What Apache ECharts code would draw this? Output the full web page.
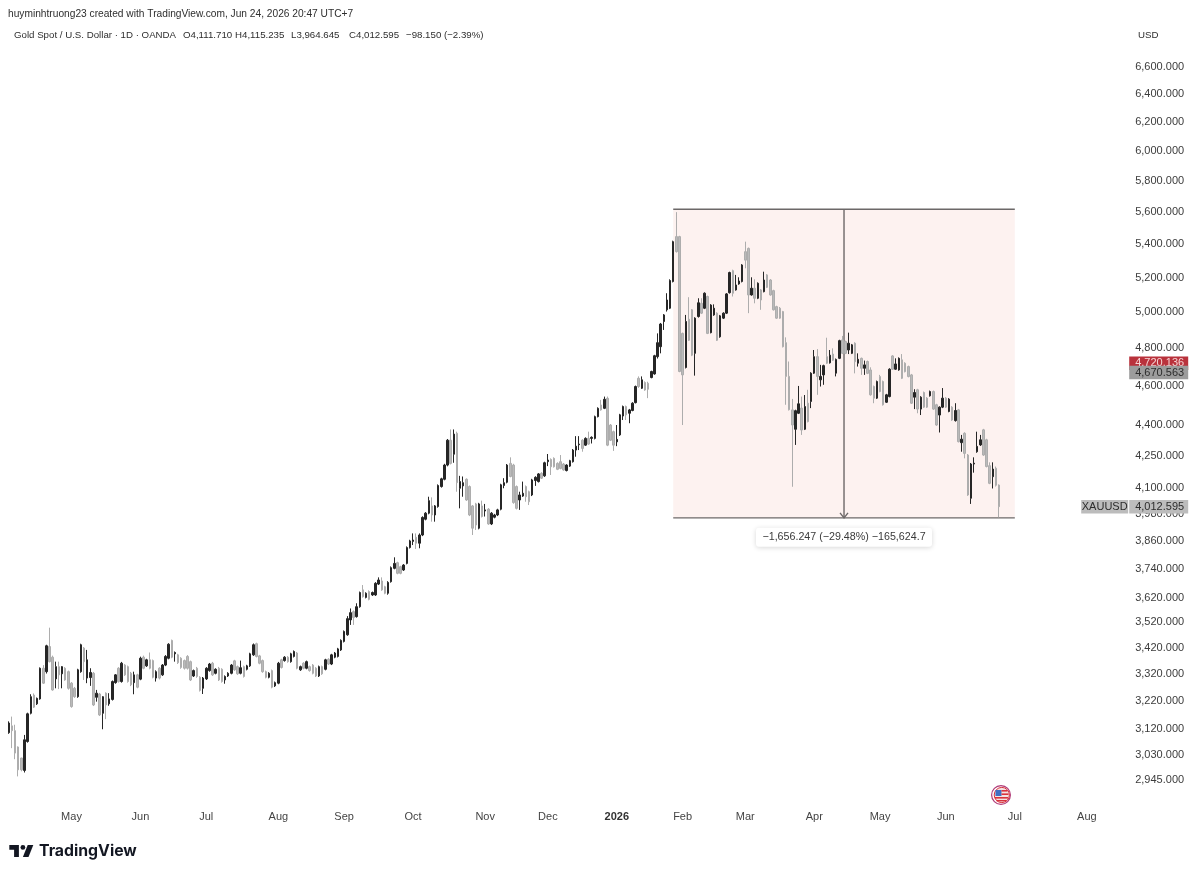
<!DOCTYPE html>
<html>
<head>
<meta charset="utf-8">
<title>XAUUSD daily</title>
<script src="https://cdn.jsdelivr.net/npm/echarts@6/dist/echarts.min.js"></script>
<style>html,body{margin:0;padding:0;background:#fff}#c{width:1200px;height:875px}</style>
</head>
<body>
<div id="c"></div>
<script>
// Daily OHLC for XAUUSD, first session 2025-04-03
const opens = [
3107,3131,3114,3057,3019,2977,3076,3176,3242,3210,
3228,3342,3329,3425,3384,3302,3348,3321,3342,3329,
3286,3267,3236,3329,3419,3305,3307,3323,3234,3246,
3176,3249,3210,3226,3288,3342,3292,3354,3348,3323,
3288,3317,3301,3384,3351,3374,3371,3305,3342,3317,
3354,3380,3449,3397,3393,3380,3371,3387,3367,3313,
3342,3308,3267,3302,3333,3361,3323,3342,3338,3298,
3313,3323,3370,3348,3323,3348,3338,3351,3393,3436,
3389,3371,3329,3308,3333,3276,3286,3374,3371,3384,
3367,3387,3400,3336,3361,3342,3348,3354,3342,3313,
3348,3338,3376,3358,3384,3387,3412,3445,3471,3530,
3563,3543,3583,3652,3621,3645,3631,3631,3676,3689,
3665,3638,3686,3742,3766,3749,3735,3763,3831,3858,
3876,3850,3886,3956,3983,4016,3975,4013,4105,4139,
4206,4326,4258,4360,4097,4108,4139,4105,4016,4025,
3916,4016,3993,4001,3935,3965,3975,4001,4110,4125,
4214,4206,4105,4043,4061,4105,4081,4066,4133,4128,
4167,4155,4222,4233,4238,4214,4222,4211,4180,4201,
4222,4278,4304,4326,4302,4335,4335,4335,4443,4502,
4485,4536,4401,4368,4318,4352,4446,4494,4460,4474,
4514,4640,4588,4618,4614,4644,4663,4755,4809,4948,
5014,5023,5177,5447,5447,4882,4697,4961,5014,4773,
4976,5051,5023,5090,4886,4985,4995,4863,4967,4995,
5112,5241,5128,5163,5177,5355,5375,5099,5138,5080,
5128,5118,5216,5186,5124,5032,5023,5004,4831,4650,
4477,4380,4460,4486,4380,4511,4520,4667,4755,4632,
4658,4755,4722,4769,4667,4746,4846,4837,4791,4773,
4828,4720,4746,4693,4729,4684,4597,4537,4649,4623,
4516,4545,4759,4688,4684,4738,4720,4702,4658,4542,
4580,4481,4566,4537,4549,4571,4503,4451,4491,4537,
4469,4491,4423,4477,4314,4360,4254,4051,4211,4270,
4303,4377,4328,4203,4151,4191,4111.71];
const highs = [
3147,3164,3135,3059,3020,3099,3178,3245,3248,3233,
3345,3354,3432,3499,3390,3367,3367,3350,3346,3333,
3290,3272,3340,3436,3423,3412,3342,3328,3261,3250,
3238,3252,3249,3296,3320,3346,3366,3358,3352,3328,
3329,3321,3386,3390,3378,3402,3375,3334,3346,3358,
3392,3438,3452,3406,3397,3384,3375,3392,3371,3337,
3347,3312,3309,3346,3362,3366,3342,3347,3342,3315,
3327,3358,3374,3352,3371,3352,3355,3401,3437,3440,
3393,3375,3333,3327,3337,3292,3366,3378,3388,3388,
3401,3410,3404,3352,3365,3371,3352,3358,3346,3352,
3352,3378,3380,3397,3404,3420,3453,3488,3545,3576,
3568,3597,3645,3672,3642,3650,3645,3684,3704,3704,
3669,3688,3750,3789,3770,3753,3760,3836,3865,3893,
3893,3893,3969,3988,4058,4055,4020,4115,4146,4212,
4332,4379,4379,4368,4155,4152,4143,4110,4020,4030,
4030,4040,4025,4006,3988,3980,4003,4118,4144,4211,
4243,4212,4110,4081,4128,4110,4086,4141,4153,4168,
4172,4222,4259,4238,4243,4219,4254,4216,4210,4231,
4283,4346,4346,4331,4340,4368,4345,4448,4490,4528,
4545,4545,4406,4373,4401,4457,4499,4499,4482,4516,
4602,4650,4650,4624,4622,4680,4765,4882,4940,4990,
5109,5190,5422,5600,5452,4886,4985,5086,5018,4972,
5080,5080,5114,5095,5046,5045,5000,4985,5000,5110,
5235,5247,5216,5202,5280,5416,5380,5202,5190,5172,
5133,5235,5221,5191,5129,5037,5030,5008,4860,4729,
4533,4478,4600,4545,4553,4580,4672,4791,4796,4711,
4712,4858,4791,4800,4745,4847,4868,4842,4886,4824,
4833,4773,4750,4734,4734,4698,4602,4628,4658,4628,
4559,4693,4763,4746,4751,4769,4725,4707,4663,4583,
4585,4547,4571,4542,4576,4576,4508,4495,4589,4542,
4537,4496,4511,4482,4352,4365,4259,4216,4243,4368,
4352,4382,4333,4219,4219,4199,4115.235];
const lows = [
3103,3053,3015,2957,2974,2970,3072,3172,3195,3206,
3225,3283,3322,3364,3258,3267,3264,3267,3295,3262,
3196,3232,3232,3325,3298,3286,3276,3202,3218,3166,
3119,3155,3203,3222,3284,3288,3288,3313,3288,3275,
3245,3267,3297,3338,3347,3338,3304,3292,3300,3313,
3350,3376,3380,3367,3358,3340,3337,3337,3294,3309,
3306,3255,3246,3298,3329,3313,3319,3294,3288,3284,
3309,3319,3332,3317,3319,3307,3334,3347,3389,3383,
3357,3325,3304,3304,3267,3272,3282,3341,3367,3363,
3363,3383,3338,3332,3338,3338,3329,3319,3309,3309,
3317,3334,3354,3354,3380,3383,3408,3441,3467,3510,
3510,3539,3579,3620,3617,3609,3627,3627,3672,3648,
3634,3632,3682,3738,3717,3717,3731,3759,3827,3842,
3825,3828,3881,3951,3978,3945,3945,4008,4100,4134,
4200,4209,4217,4081,4005,4058,4039,3970,3886,3908,
3911,3964,3968,3931,3930,3960,3970,3996,4097,4120,
4148,4026,4000,3998,4057,4035,4020,4061,4108,4124,
4140,4150,4201,4159,4194,4182,4186,4179,4176,4197,
4218,4246,4278,4270,4298,4303,4310,4330,4439,4473,
4481,4297,4322,4274,4297,4347,4426,4426,4410,4470,
4510,4590,4584,4575,4537,4640,4659,4745,4773,4901,
5004,5018,5172,5350,4672,4401,4692,4840,4758,4654,
4970,4990,5018,4878,4882,4980,4840,4858,4962,4990,
5107,5090,5124,5158,5172,5255,4995,5095,5051,5075,
5014,5114,5139,5095,5010,4963,4963,4805,4503,4474,
4104,4303,4456,4352,4376,4414,4486,4663,4554,4597,
4606,4716,4718,4732,4650,4742,4769,4769,4769,4769,
4666,4702,4658,4658,4662,4550,4511,4533,4567,4499,
4512,4541,4684,4684,4680,4636,4671,4645,4507,4481,
4460,4451,4487,4487,4545,4477,4397,4364,4486,4487,
4465,4422,4418,4315,4270,4238,4062,4025,4170,4265,
4298,4250,4195,4116,4096,4105,3964.645];
const closes = [
3141,3114,3036,2979,2979,3082,3174,3236,3198,3230,
3342,3286,3428,3367,3261,3348,3317,3348,3298,3267,
3200,3236,3336,3432,3367,3374,3326,3206,3249,3170,
3236,3206,3228,3292,3317,3292,3361,3317,3292,3280,
3317,3271,3380,3342,3374,3342,3308,3329,3305,3354,
3387,3434,3384,3402,3363,3345,3342,3342,3298,3333,
3311,3259,3305,3342,3358,3317,3338,3298,3292,3311,
3323,3354,3336,3321,3344,3311,3351,3397,3432,3387,
3361,3329,3308,3323,3271,3288,3361,3345,3384,3367,
3397,3406,3342,3348,3342,3367,3333,3323,3313,3348,
3321,3374,3358,3393,3400,3416,3449,3484,3535,3559,
3540,3583,3641,3624,3638,3613,3641,3679,3693,3652,
3638,3683,3745,3763,3721,3721,3756,3831,3860,3864,
3850,3886,3964,3983,4040,3975,4016,4110,4141,4206,
4326,4214,4356,4123,4128,4123,4043,3975,3916,3930,
4025,3968,3998,3935,3983,3975,3998,4113,4123,4206,
4152,4031,4005,4066,4074,4058,4035,4136,4148,4164,
4144,4217,4230,4198,4198,4186,4190,4183,4206,4227,
4278,4297,4307,4286,4335,4307,4340,4443,4485,4477,
4531,4302,4326,4302,4330,4452,4494,4452,4477,4511,
4597,4597,4632,4579,4583,4676,4760,4831,4934,4985,
5070,5183,5416,5355,4676,4658,4948,4844,4763,4967,
5054,4995,5109,4882,5041,5023,4844,4980,4995,5105,
5230,5109,5157,5180,5275,5304,5099,5138,5080,5167,
5070,5186,5143,5099,5014,4967,4967,4809,4650,4478,
4401,4473,4508,4376,4494,4418,4667,4755,4650,4650,
4707,4720,4763,4736,4740,4842,4773,4773,4828,4819,
4728,4741,4693,4711,4666,4554,4537,4623,4571,4503,
4554,4688,4688,4716,4746,4640,4675,4649,4511,4566,
4481,4542,4491,4491,4571,4481,4401,4491,4537,4491,
4532,4426,4474,4319,4331,4262,4066,4211,4215,4296,
4328,4254,4199,4120,4187,4111,4012.595];

// Price scale labels
const priceTicks = [6600,6400,6200,6000,5800,5600,5400,5200,5000,4800,4600,4400,4250,4100,3980,3860,3740,3620,3520,3420,3320,3220,3120,3030,2945];

// Calendar of the time scale
const calendarStart = '2025-04-01';
const calendarEnd = '2026-08-20';
const closedSessions = ['2025-12-25','2026-01-01','2026-04-03'];
const firstBarOffset = 2;
const monthNames = ['Jan','Feb','Mar','Apr','May','Jun','Jul','Aug','Sep','Oct','Nov','Dec'];

// Drawing tool: price range measured from the high to the low
const measureFrom = 5618;
const measureTo = 3962;
const measureLabel = '\u22121,656.247 (\u221229.48%) \u2212165,624.7';
const measureStartBar = 212;  // counted from the first session
const measureEndBar = 321;

// Price scale badges
const badgeValues = [4720.136, 4670.563, 4012.595];

const headerLine1 = 'huyminhtruong23 created with TradingView.com, Jun 24, 2026 20:47 UTC+7';
const headerLine2 = 'Gold Spot / U.S. Dollar \u00b7 1D \u00b7 OANDA';
const ohlcText = ['O4,111.710','H4,115.235','L3,964.645','C4,012.595','\u221298.150 (\u22122.39%)'];

const FONT = '"Liberation Sans", Arial, sans-serif';
const DARK = '#262626', LIGHT = '#bababa';

function buildCalendar() {
  const out = [];
  const d = new Date(calendarStart + 'T00:00:00Z');
  const end = new Date(calendarEnd + 'T00:00:00Z');
  while (d <= end) {
    const wd = d.getUTCDay();
    const s = d.toISOString().slice(0, 10);
    if (wd !== 0 && wd !== 6 && !closedSessions.includes(s)) out.push(s);
    d.setUTCDate(d.getUTCDate() + 1);
  }
  return out;
}
const categories = buildCalendar();
const monthLabelAt = {};
categories.forEach((s, i) => {
  if (i === 0) return;
  if (s.slice(0, 7) !== categories[i - 1].slice(0, 7) && s >= '2025-05') {
    const m = +s.slice(5, 7) - 1;
    monthLabelAt[i] = m === 0 ? '{y|' + s.slice(0, 4) + '}' : monthNames[m];
  }
});

const candleData = opens.map((o, i) => [i + firstBarOffset, o, closes[i], lows[i], highs[i]]);

function fmtTick(v) {
  return Number(v).toLocaleString('en-US', {minimumFractionDigits: 3, maximumFractionDigits: 3});
}

function renderMeasure(params, api) {
  const a = api.coord([api.value(0), api.value(2)]);
  const b = api.coord([api.value(1), api.value(3)]);
  const x1 = a[0], x2 = b[0], top = a[1], bot = b[1], mid = (x1 + x2) / 2;
  const line = {stroke: '#6c6868', lineWidth: 1.4, fill: null};
  return {
    type: 'group',
    children: [
      {type: 'rect', shape: {x: x1, y: top, width: x2 - x1, height: bot - top}, style: {fill: '#fdf2f0'}},
      {type: 'line', shape: {x1: x1, y1: top, x2: x2, y2: top}, style: line},
      {type: 'line', shape: {x1: x1, y1: bot, x2: x2, y2: bot}, style: line},
      {type: 'line', shape: {x1: mid, y1: top, x2: mid, y2: bot}, style: line},
      {type: 'polyline', shape: {points: [[mid - 4, bot - 5], [mid, bot], [mid + 4, bot - 5]]}, style: line},
      {type: 'rect', shape: {x: mid - 88, y: bot + 10, width: 176, height: 19, r: 3},
        style: {fill: '#fff', shadowColor: 'rgba(0,0,0,0.16)', shadowBlur: 5, shadowOffsetY: 1}},
      {type: 'text', x: mid, y: bot + 19.5,
        style: {text: measureLabel, fill: '#3a3a3a', font: '10.7px ' + FONT, align: 'center', verticalAlign: 'middle'}}
    ]
  };
}

const badgeStyles = [
  {bg: '#b9323c', fg: '#f6d5d5'},
  {bg: '#9c9c9c', fg: '#2c2c2c'},
  {bg: '#bcbcbc', fg: '#2c2c2c', name: 'XAUUSD'}
];
function renderBadge(params, api) {
  const i = params.dataIndex;
  const st = badgeStyles[i];
  const y = api.coord([0, api.value(1)])[1];
  const cs = params.coordSys;
  const x = cs.x + cs.width;
  const h = 13.5;
  const children = [
    {type: 'rect', shape: {x: x, y: y - h / 2, width: 59, height: h}, style: {fill: st.bg}},
    {type: 'text', x: x + 6, y: y, style: {text: fmtTick(api.value(1)), fill: st.fg, font: '11px ' + FONT, verticalAlign: 'middle'}}
  ];
  if (st.name) {
    children.push({type: 'rect', shape: {x: x - 48, y: y - h / 2, width: 47, height: h}, style: {fill: st.bg}});
    children.push({type: 'text', x: x - 24.5, y: y, style: {text: st.name, fill: st.fg, font: '11px ' + FONT, align: 'center', verticalAlign: 'middle'}});
  }
  return {type: 'group', children: children};
}

const headerText = (x, y, text, size) => ({
  type: 'text', x: x, y: y,
  style: {text: text, fill: '#2e2e2e', font: (size || 9.7) + 'px ' + FONT, verticalAlign: 'middle'}
});

const chart = echarts.init(document.getElementById('c'), null, {renderer: 'canvas'});
chart.setOption({
  animation: false,
  backgroundColor: '#fff',
  textStyle: {fontFamily: FONT},
  grid: {left: 1, top: 50, width: 1128.2, height: 750},
  xAxis: {
    type: 'category',
    data: categories,
    boundaryGap: true,
    axisLine: {show: false},
    axisTick: {show: false},
    splitLine: {show: false},
    axisLabel: {
      show: true,
      margin: 11,
      fontSize: 11,
      color: '#444',
      hideOverlap: false,
      interval: (i) => monthLabelAt[i] !== undefined,
      formatter: (v, i) => monthLabelAt[i] || '',
      rich: {y: {fontWeight: 'bold', fontSize: 11, color: '#333'}}
    }
  },
  yAxis: {
    type: 'log',
    logBase: 10,
    position: 'right',
    min: 2879,
    max: 6728,
    axisLine: {show: false},
    axisTick: {show: false},
    splitLine: {show: false},
    minorTick: {show: false},
    axisLabel: {
      margin: 6,
      fontSize: 11,
      color: '#3c3c3c',
      showMinLabel: true,
      showMaxLabel: true,
      hideOverlap: false,
      customValues: priceTicks,
      formatter: fmtTick
    }
  },
  series: [
    {
      type: 'custom',
      z: 1,
      clip: false,
      renderItem: renderMeasure,
      data: [[measureStartBar + firstBarOffset, measureEndBar + firstBarOffset, measureFrom, measureTo]],
      encode: {x: [0, 1], y: [2, 3]},
      silent: true
    },
    {
      type: 'candlestick',
      z: 2,
      barWidth: 2,
      data: candleData,
      encode: {x: 0, y: [1, 2, 3, 4]},
      itemStyle: {color: DARK, color0: LIGHT, borderColor: DARK, borderColor0: '#adadad', borderWidth: 1},
      silent: true
    },
    {
      type: 'custom',
      z: 5,
      clip: false,
      renderItem: renderBadge,
      data: badgeValues.map(v => [0, v]),
      encode: {x: 0, y: 1},
      silent: true
    }
  ],
  graphic: [
    headerText(8, 14, headerLine1, 10.2),
    headerText(14, 35, headerLine2),
    headerText(183, 35, ohlcText[0]),
    headerText(235, 35, ohlcText[1]),
    headerText(291, 35, ohlcText[2]),
    headerText(349, 35, ohlcText[3]),
    headerText(406, 35, ohlcText[4]),
    headerText(1138, 35, 'USD'),
    // TradingView mark
    {
      type: 'group', x: 7.7, y: 840.2, scaleX: 0.8, scaleY: 0.8,
      children: [
        {type: 'polygon', shape: {points: [[2,6],[14,6],[14,21],[8,21],[8,12],[2,12]]}, style: {fill: '#131722'}},
        {type: 'polygon', shape: {points: [[26,21],[19,21],[25,6],[32,6]]}, style: {fill: '#131722'}},
        {type: 'circle', shape: {cx: 19, cy: 9, r: 3}, style: {fill: '#131722'}}
      ]
    },
    {type: 'text', x: 39, y: 851.5, style: {text: 'TradingView', fill: '#131722', font: 'bold 15.8px Inter, ' + FONT, verticalAlign: 'middle'}},
    {
      type: 'group', x: 1001, y: 795,
      children: [
        {type: 'circle', shape: {cx: 0, cy: 0, r: 9.4}, style: {fill: '#fff', stroke: '#b03a78', lineWidth: 1.2}},
        {type: 'circle', shape: {cx: 0.8, cy: 0, r: 7.6}, style: {fill: '#f4e2e2', stroke: '#d8323c', lineWidth: 1}},
        {type: 'rect', shape: {x: -5.5, y: -5, width: 6, height: 6}, style: {fill: '#3f6fc4'}},
        {type: 'rect', shape: {x: 0.5, y: -5, width: 6, height: 1.6}, style: {fill: '#d8323c'}},
        {type: 'rect', shape: {x: 0.5, y: -1.6, width: 7, height: 1.6}, style: {fill: '#d8323c'}},
        {type: 'rect', shape: {x: -6, y: 2, width: 13, height: 1.6}, style: {fill: '#d8323c'}},
        {type: 'rect', shape: {x: -4.5, y: 5, width: 10, height: 1.4}, style: {fill: '#d8323c'}}
      ]
    }
  ]
});
</script>
</body>
</html>
